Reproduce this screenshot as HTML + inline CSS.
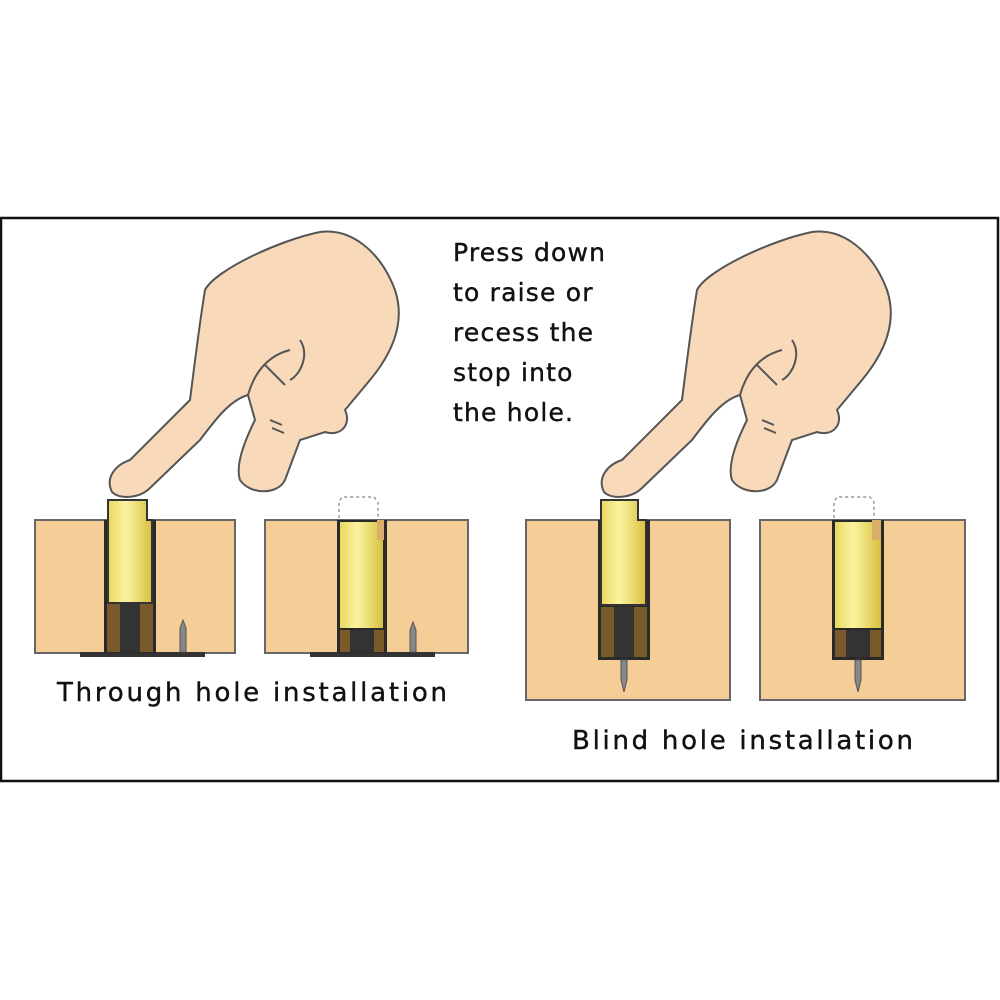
<!DOCTYPE html>
<html><head><style>
body{margin:0;width:1000px;height:1000px;background:#fff;overflow:hidden}
svg{display:block}
text{font-family:"DejaVu Sans","Liberation Sans",sans-serif;fill:#111;stroke:#111;stroke-width:0.4}
</style></head><body>
<svg width="1000" height="1000" viewBox="0 0 1000 1000">
<rect x="1" y="218" width="997" height="563" fill="#fff" stroke="#111" stroke-width="2.5"/>
<defs>
<linearGradient id="y" x1="0" x2="1"><stop offset="0" stop-color="#e8d860"/><stop offset=".4" stop-color="#fbf3a0"/><stop offset="1" stop-color="#d8c040"/></linearGradient>
<g id="hand">
<path d="M112,492 C105,478 115,465 130,460 L190,400 C195,360 200,320 205,290 C215,270 280,240 320,232 C350,228 380,250 395,290 C405,320 395,350 370,380 L345,410 C352,425 340,437 325,432 L300,440 L285,480 C278,495 250,495 240,480 C235,465 245,440 255,420 L248,395 C230,400 215,420 200,440 L150,488 C140,498 120,500 112,492 Z" fill="#f8d9b9" stroke="#555" stroke-width="2"/>
<path d="M248,395 C255,370 270,355 290,350 M265,365 L285,385 M300,340 C310,355 300,375 290,380 M270,420 L282,425 M272,428 L284,433" fill="none" stroke="#555" stroke-width="2"/>
</g>
</defs>
<use href="#hand"/>
<use href="#hand" transform="translate(492,0)"/>
<!-- block 1 -->
<rect x="35" y="520" width="200" height="133" fill="#f5cd96" stroke="#666" stroke-width="2"/>
<rect x="80" y="652" width="125" height="5" fill="#333"/>
<rect x="104" y="520" width="52" height="133" fill="#2a2a2a"/>
<rect x="107" y="604" width="46" height="48" fill="#7a5a2a"/>
<rect x="120" y="604" width="20" height="48" fill="#333"/>
<path d="M108,500 H147 V520 H152 V603 H108 Z" fill="url(#y)" stroke="#333" stroke-width="2"/>
<path d="M180,652 V628 L183,620 L186,628 V652 Z" fill="#888" stroke="#555"/>
<!-- block 2 -->
<rect x="265" y="520" width="203" height="133" fill="#f5cd96" stroke="#666" stroke-width="2"/>
<rect x="310" y="652" width="125" height="5" fill="#333"/>
<rect x="337" y="520" width="50" height="133" fill="#2a2a2a"/>
<rect x="340" y="630" width="44" height="22" fill="#7a5a2a"/>
<rect x="350" y="630" width="24" height="22" fill="#333"/>
<path d="M340,522 H377 V540 H383 V628 H340 Z" fill="url(#y)"/>
<rect x="377" y="520" width="7" height="20" fill="#d9ad6a"/>
<path d="M339,518 V502 L342,497 H374 L378,502 V518" fill="none" stroke="#999" stroke-width="1.5" stroke-dasharray="3 3"/>
<path d="M410,652 V630 L413,622 L416,630 V652 Z" fill="#888" stroke="#555"/>
<!-- block 3 -->
<rect x="526" y="520" width="204" height="180" fill="#f5cd96" stroke="#666" stroke-width="2"/>
<rect x="598" y="520" width="52" height="140" fill="#2a2a2a"/>
<rect x="601" y="607" width="46" height="50" fill="#7a5a2a"/>
<rect x="614" y="607" width="20" height="50" fill="#333"/>
<path d="M601,500 H638 V520 H646 V605 H601 Z" fill="url(#y)" stroke="#333" stroke-width="2"/>
<path d="M621,660 V680 L624,692 L627,680 V660 Z" fill="#888" stroke="#555"/>
<!-- block 4 -->
<rect x="760" y="520" width="205" height="180" fill="#f5cd96" stroke="#666" stroke-width="2"/>
<rect x="832" y="520" width="52" height="140" fill="#2a2a2a"/>
<rect x="835" y="630" width="46" height="27" fill="#7a5a2a"/>
<rect x="846" y="630" width="24" height="27" fill="#333"/>
<path d="M835,522 H872 V540 H881 V628 H835 Z" fill="url(#y)"/>
<rect x="872" y="520" width="9" height="20" fill="#d9ad6a"/>
<path d="M834,518 V502 L837,497 H870 L874,502 V518" fill="none" stroke="#999" stroke-width="1.5" stroke-dasharray="3 3"/>
<path d="M855,660 V680 L858,692 L861,680 V660 Z" fill="#888" stroke="#555"/>
<!-- text -->
<g font-size="25" letter-spacing="1.2">
<text x="453" y="261">Press down</text>
<text x="453" y="301">to raise or</text>
<text x="453" y="341">recess the</text>
<text x="453" y="381">stop into</text>
<text x="453" y="421">the hole.</text>
</g>
<text x="57" y="701" font-size="26" textLength="390" lengthAdjust="spacing">Through hole installation</text>
<text x="572" y="749" font-size="26" textLength="341" lengthAdjust="spacing">Blind hole installation</text>
</svg>
</body></html>
